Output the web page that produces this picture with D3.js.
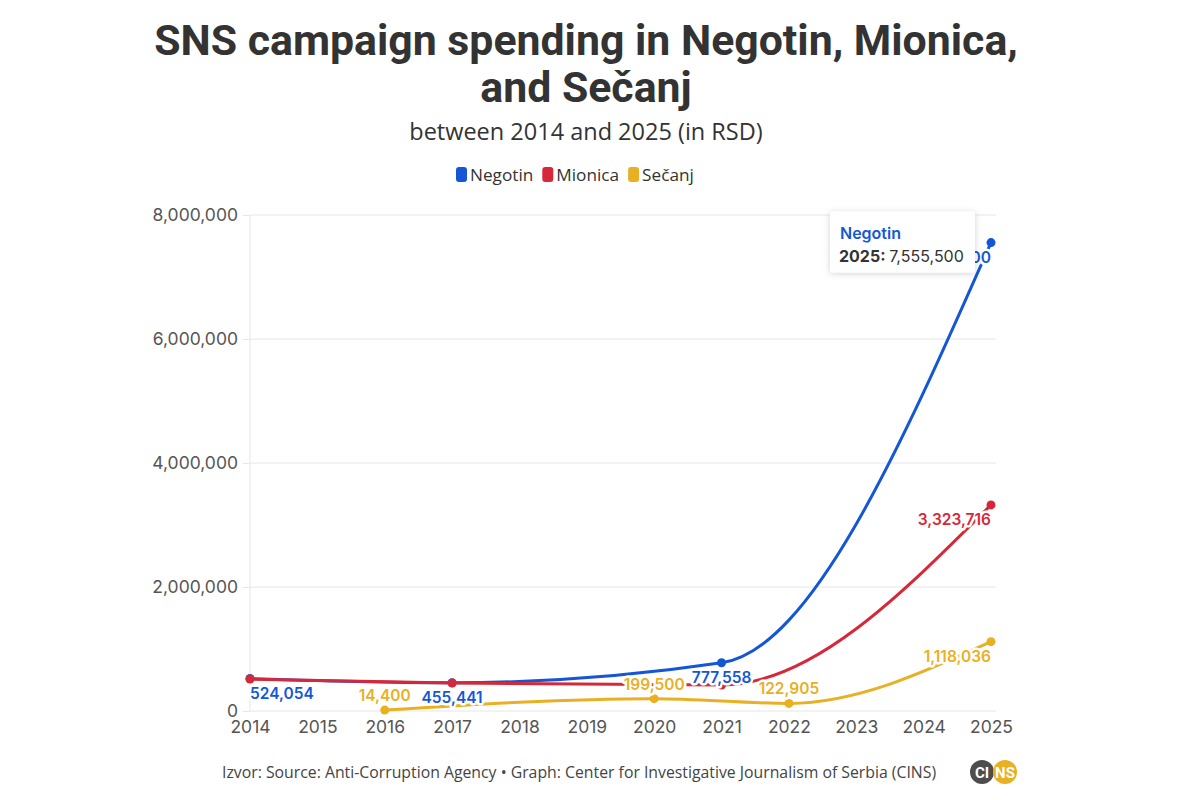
<!DOCTYPE html>
<html>
<head>
<meta charset="utf-8">
<script src="https://cdn.jsdelivr.net/npm/d3@7"></script>
<style>
  html, body { margin: 0; padding: 0; background: #fff; }
  svg { display: block; }
</style>
</head>
<body>
<div id="chart"></div>
<script>
// data
const yearTicks = [2014, 2015, 2016, 2017, 2018, 2019, 2020, 2021, 2022, 2023, 2024, 2025];
const valueTicks = [0, 2000000, 4000000, 6000000, 8000000];

const negotinYears = [2014, 2017, 2021, 2025];
const negotinValues = [524054, 455441, 777558, 7555500];

const mionicaYears = [2014, 2017, 2021, 2025];
const mionicaValues = [515000, 450000, 420000, 3323716];

const secanjYears = [2016, 2020, 2022, 2025];
const secanjValues = [14400, 199500, 122905, 1118036];

const seriesNames = ['Negotin', 'Mionica', 'Sečanj'];

const colors = { Negotin: '#1457d6', Mionica: '#d7283a', 'Sečanj': '#e9b023' };

const W = 1200, H = 800;
const titleFont = "Roboto, 'Noto Sans', sans-serif";
const bodyFont = "'Open Sans', 'Noto Sans', sans-serif";
const axisFont = "Inter, 'Noto Sans', sans-serif";

const svg = d3.select('#chart').append('svg').attr('width', W).attr('height', H);

const defs = svg.append('defs');
const shadow = defs.append('filter').attr('id', 'tipShadow').attr('x', '-20%').attr('y', '-20%').attr('width', '140%').attr('height', '150%');
shadow.append('feDropShadow').attr('dx', 0).attr('dy', 1).attr('stdDeviation', 3).attr('flood-color', '#000').attr('flood-opacity', 0.18);

// title block
svg.append('text').attr('x', 586).attr('y', 55).attr('text-anchor', 'middle')
  .attr('font-family', titleFont).attr('font-weight', 700).attr('font-size', 42.8).attr('fill', '#333')
  .text('SNS campaign spending in Negotin, Mionica,');
svg.append('text').attr('x', 586).attr('y', 102).attr('text-anchor', 'middle')
  .attr('font-family', titleFont).attr('font-weight', 700).attr('font-size', 42.8).attr('fill', '#333')
  .text('and Sečanj');
svg.append('text').attr('x', 586).attr('y', 140).attr('text-anchor', 'middle')
  .attr('font-family', bodyFont).attr('font-size', 23.5).attr('fill', '#333')
  .text('between 2014 and 2025 (in RSD)');

// legend
const legend = svg.append('g').attr('transform', 'translate(456,174)');
let lx = 0;
seriesNames.forEach(name => {
  const g = legend.append('g').attr('transform', `translate(${lx},0)`);
  g.append('rect').attr('x', 0).attr('y', -7).attr('width', 11).attr('height', 15).attr('rx', 3)
    .attr('fill', colors[name]);
  const t = g.append('text').attr('x', 14).attr('y', 6.5)
    .attr('font-family', bodyFont).attr('font-size', 17.2).attr('fill', '#333').text(name);
  lx += 14 + t.node().getComputedTextLength() + 9;
});

// scales
const x = d3.scaleLinear().domain([2014, 2025]).range([250, 991]);
const y = d3.scaleLinear().domain([0, 8000000]).range([711, 215]);

// grid + y axis
const yAxis = svg.append('g').attr('transform', 'translate(250,0)')
  .call(d3.axisLeft(y).tickValues(valueTicks).tickFormat(d3.format(',')).tickSize(7).tickPadding(5));
yAxis.select('.domain').remove();
yAxis.selectAll('line').attr('stroke', '#e6e6e6');
yAxis.selectAll('text').attr('font-family', axisFont).attr('font-size', 17.5).attr('fill', '#555');

svg.append('g').selectAll('line').data(valueTicks).join('line')
  .attr('x1', 250).attr('x2', 996).attr('y1', d => y(d)).attr('y2', d => y(d))
  .attr('stroke', '#e6e6e6').attr('stroke-width', 1);
svg.append('line').attr('x1', 250).attr('x2', 250).attr('y1', y(8000000)).attr('y2', y(0))
  .attr('stroke', '#e6e6e6');

// x axis
const xAxis = svg.append('g').attr('transform', `translate(0,${y(0)})`)
  .call(d3.axisBottom(x).tickValues(yearTicks).tickFormat(d => d).tickSize(0).tickPadding(10));
xAxis.select('.domain').remove();
xAxis.selectAll('text').attr('font-family', axisFont).attr('font-size', 17.5).attr('fill', '#555');

// lines
const series = [
  { name: 'Negotin', years: negotinYears, values: negotinValues, labels: 'all', below: () => true },
  { name: 'Mionica', years: mionicaYears, values: mionicaValues, labels: 'last', below: () => true },
  { name: 'Sečanj', years: secanjYears, values: secanjValues, labels: 'all', below: (i, n) => i === n - 1 }
];

const line = d3.line().x(d => x(d[0])).y(d => y(d[1])).curve(d3.curveMonotoneX);

const linesG = svg.append('g');
series.forEach(s => {
  const pts = s.years.map((yr, i) => [yr, s.values[i]]);
  linesG.append('path').datum(pts).attr('d', line)
    .attr('fill', 'none').attr('stroke', colors[s.name]).attr('stroke-width', 3)
    .attr('stroke-linecap', 'round');
  linesG.append('g').selectAll('circle').data(pts).join('circle')
    .attr('cx', d => x(d[0])).attr('cy', d => y(d[1])).attr('r', 4.5)
    .attr('fill', colors[s.name]);
});

// data labels
const labelsG = svg.append('g');
const fmt = d3.format(',');
series.forEach(s => {
  const n = s.years.length;
  s.years.forEach((yr, i) => {
    if (s.labels === 'last' && i !== n - 1) return;
    const px = x(yr), py = y(s.values[i]);
    const t = labelsG.append('text')
      .attr('font-family', axisFont).attr('font-size', 15.5).attr('font-weight', 600)
      .attr('fill', colors[s.name])
      .attr('stroke', '#fff').attr('stroke-width', 5).attr('stroke-linejoin', 'round')
      .attr('paint-order', 'stroke')
      .text(fmt(s.values[i]));
    const w = t.node().getComputedTextLength();
    let left = px - w / 2;
    left = Math.max(250, Math.min(991 - w, left));
    t.attr('x', left).attr('y', s.below(i, n) ? py + 20 : py - 9);
  });
});

// tooltip on the last Negotin point
const tipX = x(2025), tipY = y(7555500);
const tip = svg.append('g').attr('transform', `translate(${tipX - 161},${tipY - 31})`);
tip.append('rect').attr('width', 145).attr('height', 61).attr('rx', 3)
  .attr('fill', '#fff').attr('filter', 'url(#tipShadow)');
tip.append('text').attr('x', 10).attr('y', 27)
  .attr('font-family', axisFont).attr('font-size', 16).attr('font-weight', 600)
  .attr('fill', colors.Negotin).text('Negotin');
const tipLine = tip.append('text').attr('x', 9).attr('y', 50)
  .attr('font-family', axisFont).attr('font-size', 16).attr('fill', '#333');
tipLine.append('tspan').attr('font-weight', 700).text('2025: ');
tipLine.append('tspan').text(fmt(7555500));

// footer
svg.append('text').attr('x', 222).attr('y', 778)
  .attr('font-family', bodyFont).attr('font-size', 15.8).attr('fill', '#444')
  .text('Izvor: Source: Anti-Corruption Agency • Graph: Center for Investigative Journalism of Serbia (CINS)');

const logo = svg.append('g').attr('transform', 'translate(982,772)');
logo.append('circle').attr('cx', 0).attr('cy', 0).attr('r', 12).attr('fill', '#4d4d4d');
logo.append('circle').attr('cx', 23).attr('cy', 0).attr('r', 12).attr('fill', '#e9b023');
logo.append('text').attr('x', 0).attr('y', 5.5).attr('text-anchor', 'middle')
  .attr('font-family', titleFont).attr('font-weight', 700).attr('font-size', 15).attr('fill', '#fff').text('CI');
logo.append('text').attr('x', 23).attr('y', 5.5).attr('text-anchor', 'middle')
  .attr('font-family', titleFont).attr('font-weight', 700).attr('font-size', 15).attr('fill', '#fff').text('NS');
</script>
</body>
</html>
